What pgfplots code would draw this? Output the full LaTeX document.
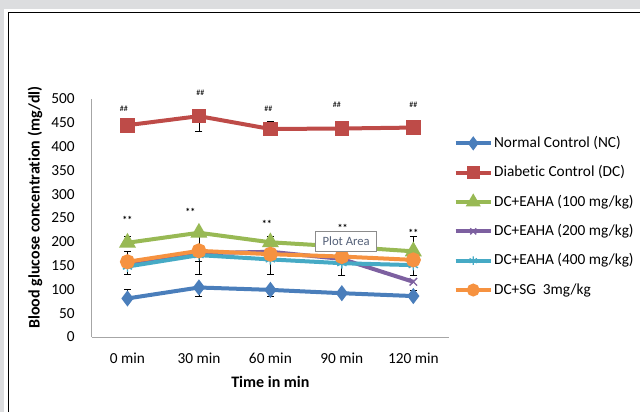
\documentclass[border=0pt]{standalone}
\usepackage{fontspec}
\setmainfont{Carlito}[Ligatures=NoCommon]
\usepackage{pgfplots}
\pgfplotsset{compat=1.18}
\definecolor{bggray}{HTML}{DCDDDF}
\definecolor{cNC}{HTML}{4A7EBB}
\definecolor{cDC}{HTML}{BE4B48}
\definecolor{cG}{HTML}{98B954}
\definecolor{cP}{HTML}{7D60A0}
\definecolor{cC}{HTML}{46AAC5}
\definecolor{cO}{HTML}{F69240}
\definecolor{axgray}{HTML}{A6A6A6}
\definecolor{tipgray}{HTML}{8C8C8C}
\definecolor{tiptext}{HTML}{56627A}
\begin{document}
\begin{tikzpicture}[x=0.75pt,y=0.75pt]
\useasboundingbox (0,0) rectangle (640,412);
\fill[bggray] (0,0) rectangle (640,412);
\fill[white] (4,0) rectangle (640,403);
\draw[line width=0.9pt] (8.5,0) -- (8.5,399.5) -- (641,399.5);
\begin{axis}[
  at={(68.8pt,56.25pt)}, anchor=south west,
  scale only axis, width=268pt, height=178.5pt,
  xmin=-0.5, xmax=4.5, ymin=0, ymax=500,
  xtick={0,1,2,3,4},
  xticklabels={0 min,30 min,60 min,90 min,120 min},
  ytick={0,50,...,500},
  axis x line*=bottom, axis y line*=left,
  axis line style={draw=axgray, line width=0.75pt},
  x axis line style={-}, y axis line style={-},
  major tick length=0pt,
  /pgf/number format/assume math mode=true,
  tick label style={font=\fontsize{11.5}{13}\selectfont},
  yticklabel style={xshift=-8pt},
  xticklabel style={yshift=-7.5pt},
  xlabel={Time in min},
  ylabel={Blood glucose concentration (mg/dl)},
  xlabel style={at={(axis description cs:0.5,-0.189)}, anchor=center, font=\bfseries\fontsize{12}{14}\selectfont},
  ylabel style={at={(axis description cs:-0.159,0.544)}, anchor=center, font=\bfseries\fontsize{12}{14}\selectfont},
  clip=false,
  line width=3pt,
  error bars/y dir=both, error bars/y explicit,
  error bars/error bar style={black, line width=0.6pt, solid},
  error bars/error mark options={rotate=90, mark size=2.6pt, black, line width=0.6pt, solid},
  legend image code/.code={\draw[mark repeat=2,mark phase=2,#1,every mark/.append style={scale=0.8}] plot coordinates {(0pt,0pt) (13.125pt,0pt) (26.25pt,0pt)};},
  legend style={at={(rel axis cs:1.0075,0.5055)}, anchor=west, draw=none, fill=none, inner sep=0pt,
    font=\fontsize{11.5}{14}\selectfont, row sep=11pt, column sep=1pt,
    nodes={inner sep=0pt, text height=8.7pt, text depth=2.3pt}},
  legend cell align=left,
]
\addplot[cNC, mark=diamond*, mark size=3.6pt, mark options={solid}] coordinates {
 (0,81) += (0,19)
 (1,104) -= (0,19)
 (2,99) -= (0,14)
 (3,92) +- (0,5)
 (4,86) += (0,12)
};
\addlegendentry{Normal Control (NC)}
\addplot[cDC, mark=square*, mark size=4pt, mark options={solid}] coordinates {
 (0,445) -= (0,12)
 (1,464) -= (0,33)
 (2,437) += (0,15)
 (3,438) += (0,15)
 (4,440) += (0,12)
};
\addlegendentry{Diabetic Control (DC)}
\addplot[cG, mark=triangle*, mark size=4.4pt, mark options={solid}] coordinates {
 (0,198) += (0,14)
 (1,219) -= (0,37)
 (2,199) += (0,13)
 (3,190) += (0,10)
 (4,180) += (0,32)
};
\addlegendentry{DC+EAHA (100 mg/kg)}
\addplot[cP, mark=x, mark size=4pt, mark options={solid, line width=1pt}] coordinates {
 (0,151) (1,176) (2,179) (3,164) (4,116)
};
\addlegendentry{DC+EAHA (200 mg/kg)}
\addplot[cC, mark=asterisk, mark size=4pt, mark options={solid, line width=1pt}] coordinates {
 (0,148) -= (0,16)
 (1,172) -= (0,40)
 (2,163) -= (0,31)
 (3,155) -= (0,25)
 (4,151) -= (0,21)
};
\addlegendentry{DC+EAHA (400 mg/kg)}
\addplot[cO, mark=*, mark size=4.1pt, mark options={solid}] coordinates {
 (0,158) += (0,21)
 (1,181) -= (0,23)
 (2,174) -= (0,11)
 (3,169)
 (4,162)
};
\addlegendentry{DC+SG~~3mg/kg}
\addplot[forget plot, draw=none, mark=none, error bars/y dir=none,
  nodes near coords={\#\#}, every node near coord/.style={anchor=center, inner sep=0pt, font=\fontsize{6}{6}\selectfont, black}]
  coordinates {(-0.05,480) (1.02,513) (1.97,480) (2.93,487) (4.0,487)};
\addplot[forget plot, draw=none, mark=none, error bars/y dir=none,
  nodes near coords={**}, every node near coord/.style={anchor=center, inner sep=0pt, font=\bfseries\fontsize{7.5}{8}\selectfont, black}]
  coordinates {(0,247) (0.88,263) (1.95,238) (3.01,230) (4.0,219)};
\end{axis}
\draw[tipgray, line width=0.6pt, fill=white] (315.7,161) rectangle (376.7,180.3);
\node[tiptext, font=\fontsize{9.5}{11}\selectfont, inner sep=0pt] at (346.2,170.5) {Plot Area};
\end{tikzpicture}
\end{document}
